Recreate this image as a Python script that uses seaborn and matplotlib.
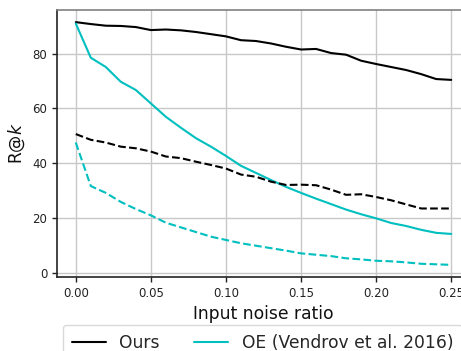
import seaborn as sns
import pandas as pd
import matplotlib.pyplot as plt
import numpy as np

noise = [0.00, 0.01, 0.02, 0.03, 0.04, 0.05, 0.06, 0.07, 0.08, 0.09, 0.10, 0.11, 0.12,
         0.13, 0.14, 0.15, 0.16, 0.17, 0.18, 0.19, 0.20, 0.21, 0.22, 0.23, 0.24, 0.25]

ours_solid = [91.5, 90.8, 90.2, 90.1, 89.7, 88.6, 88.8, 88.5, 87.9, 87.1, 86.3, 84.9, 84.6,
              83.7, 82.5, 81.5, 81.7, 80.2, 79.6, 77.4, 76.2, 75.1, 74.0, 72.5, 70.7, 70.4]
ours_dashed = [50.6, 48.5, 47.5, 46.0, 45.4, 44.2, 42.4, 41.8, 40.5, 39.3, 38.0, 35.8, 35.0,
               33.2, 32.0, 32.1, 31.9, 30.3, 28.4, 28.6, 27.6, 26.4, 24.9, 23.4, 23.4, 23.4]
oe_solid = [91.0, 78.5, 75.1, 69.7, 66.7, 61.8, 56.9, 52.9, 49.1, 46.0, 42.6, 39.0, 36.4,
            33.8, 31.3, 29.1, 27.0, 25.0, 23.0, 21.3, 19.8, 18.1, 17.0, 15.6, 14.5, 14.1]
oe_dashed = [47.5, 31.6, 29.1, 25.8, 23.2, 20.9, 18.2, 16.5, 14.8, 13.1, 11.9, 10.7, 9.8,
             8.9, 8.0, 7.0, 6.5, 6.0, 5.2, 4.8, 4.3, 4.1, 3.7, 3.2, 3.0, 2.8]

labels = ["Ours", "OE (Vendrov et al. 2016)"]

sns.set_style("whitegrid")
plt.rcParams['font.family'] = ['DejaVu Sans']

fig = plt.figure(figsize=(4.61, 3.51), dpi=100)
ax = fig.add_axes([57/461, 1-277/351, 413/461, 267/351])

df = pd.DataFrame({"x": noise, "a": ours_solid, "b": ours_dashed, "c": oe_solid, "d": oe_dashed})

sns.lineplot(data=df, x="x", y="a", color="black", lw=1.5, label=labels[0], ax=ax)
sns.lineplot(data=df, x="x", y="c", color="c", lw=1.5, label=labels[1], ax=ax)
sns.lineplot(data=df, x="x", y="b", color="black", lw=1.5, ls="--", ax=ax)
sns.lineplot(data=df, x="x", y="d", color="c", lw=1.5, ls="--", ax=ax)

ax.set_xticks([0.0, 0.05, 0.10, 0.15, 0.20, 0.25])
ax.set_xticklabels(["0.00", "0.05", "0.10", "0.15", "0.20", "0.25"])
ax.set_yticks([0, 20, 40, 60, 80])
ax.tick_params(labelsize=8.5, length=3.5, width=1, color="#222222",
               left=True, bottom=True, labelcolor="#222222")
ax.set_xlabel("Input noise ratio", fontsize=12.3, color="#111111")
ax.set_ylabel("R@$k$", fontsize=12.3, color="#111111")
ax.grid(True, color="#c8c8c8", lw=1)

for s in ["left", "bottom"]:
    ax.spines[s].set_color("#222222")
    ax.spines[s].set_linewidth(1.2)
ax.spines["top"].set_color("#808080")
ax.spines["top"].set_linewidth(1.2)

ax.get_legend().remove()
h, l = ax.get_legend_handles_labels()
fig.legend(h, l, loc="upper left", bbox_to_anchor=(63/461, 1-325/351), ncol=2,
           fontsize=12.3, borderaxespad=0, borderpad=0.5, frameon=True, edgecolor="#d0d0d0")

plt.savefig("out.png", dpi=100)
